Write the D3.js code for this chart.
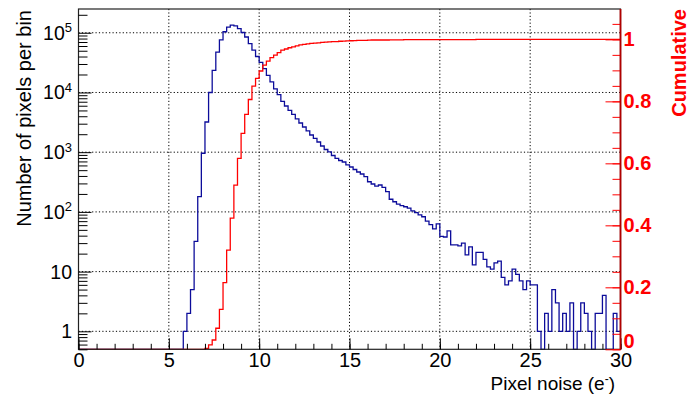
<!DOCTYPE html>
<html>
<head>
<meta charset="utf-8">
<script src="https://cdn.jsdelivr.net/npm/d3@7"></script>
<style>
  html, body { margin: 0; padding: 0; background: #fff; }
  svg { display: block; font-family: "Liberation Sans", Arial, Helvetica, sans-serif; }
</style>
</head>
<body>
<svg id="chart" width="698" height="396"></svg>
<script>
// Histogram binning: 150 bins of 0.2 e- from 0 to 30 e-
const binWidth = 0.2;
const xRange = [0, 30];

// Pixel counts per bin (left, log axis)
const pixelCounts = [
  0, 0, 0, 0, 0, 0, 0, 0, 0, 0,
  0, 0, 0, 0, 0, 0, 0, 0, 0, 0,
  0, 0, 0, 0, 0, 0, 0, 0, 0, 1,
  2, 5, 32, 180, 960, 3200, 10000, 23500, 47500, 76000,
  104000, 124000, 134000, 130000, 117000, 101000, 85000, 66000, 51000, 40000,
  32000, 25000, 19300, 15000, 11500, 9200, 7100, 5940, 5000, 4300,
  3600, 3080, 2640, 2270, 1940, 1700, 1480, 1270, 1110, 1010,
  880, 785, 726, 685, 611, 565, 513, 466, 431, 389,
  320, 293, 271, 282, 258, 218, 163, 148, 135, 127,
  122, 116, 104, 97, 89, 83, 70, 61, 52, 63,
  39, 38, 48, 28, 28, 27, 30, 19, 26, 13,
  21, 21, 16, 12, 11, 14, 15, 8, 6, 7,
  11, 9, 7, 5, 7, 6, 6, 1, 0, 2,
  1, 5, 3, 1, 2, 1, 3, 0, 1, 3,
  2, 1, 0, 2, 2, 4, 0, 0, 2, 1
];

// Cumulative fraction per bin (right, linear axis)
const cumulative = [
  0, 0, 0, 0, 0, 0, 0, 0, 0, 0,
  0, 0, 0, 0, 0, 0, 0, 0, 0, 0,
  0, 0, 0, 0, 0, 0, 0, 0, 0, 0,
  0, 0, 0, 0, 0, 0.003, 0.014, 0.030, 0.068, 0.129,
  0.215, 0.320, 0.423, 0.530, 0.616, 0.697, 0.758, 0.806, 0.849, 0.874,
  0.898, 0.917, 0.930, 0.941, 0.949, 0.957, 0.9655, 0.969, 0.973, 0.976,
  0.979, 0.982, 0.984, 0.9855, 0.987, 0.988, 0.989, 0.990, 0.991, 0.992,
  0.9925, 0.993, 0.994, 0.9945, 0.995, 0.9955, 0.996, 0.9965, 0.997, 0.997,
  0.9975, 0.998, 0.998, 0.998, 0.998, 0.998, 0.9985, 0.9985, 0.9985, 0.9985,
  0.999, 0.999, 0.999, 0.999, 0.999, 0.999, 0.9995, 0.9995, 0.9995, 0.9995,
  0.9995, 0.9995, 0.9995, 0.9995, 0.9995, 0.9995, 0.9995, 0.9995, 0.9995, 0.9995,
  1, 1, 1, 1, 1, 1, 1, 1, 1, 1,
  1, 1, 1, 1, 1, 1, 1, 1, 1, 1,
  1, 1, 1, 1, 1, 1, 1, 1, 1, 1,
  1, 1, 1, 1, 1, 1, 1, 1, 1, 1
];

// Axis ticks and labels
const xTicks = [0, 5, 10, 15, 20, 25, 30];
const xTickLabels = ["0", "5", "10", "15", "20", "25", "30"];
const xGrid = [5, 10, 15, 20, 25];
const yTicks = [1, 10, 100, 1000, 10000, 100000];
const yTickBase = ["1", "10", "10", "10", "10", "10"];
const yTickExp = ["", "", "2", "3", "4", "5"];
const rTicks = [0, 0.2, 0.4, 0.6, 0.8, 1];
const rTickLabels = ["0", "0.2", "0.4", "0.6", "0.8", "1"];

const xTitle = "Pixel noise (e";
const yTitle = "Number of pixels per bin";
const rTitle = "Cumulative";

const frame = { left: 78.5, right: 620.5, top: 9, bottom: 349.3 };
const blue = "#0c0c9a";
const red = "#ff0000";

const svg = d3.select("#chart");

const x = d3.scaleLinear().domain(xRange).range([frame.left, frame.right]);
const y = d3.scaleLog().domain([0.5, 2.5e5]).range([frame.bottom, frame.top]);
const yR = d3.scaleLinear().domain([0, 1.098]).range([frame.bottom, frame.top]);

svg.append("defs").append("clipPath").attr("id", "plotClip")
  .append("rect")
  .attr("x", frame.left).attr("y", frame.top - 1)
  .attr("width", frame.right - frame.left).attr("height", frame.bottom - frame.top + 2);

// Dotted grid
const grid = svg.append("g").attr("stroke", "#000").attr("stroke-width", 1)
  .attr("stroke-dasharray", "1.2,2.2");
grid.selectAll("line.gx").data(xGrid).join("line")
  .attr("x1", d => x(d)).attr("x2", d => x(d))
  .attr("y1", frame.top).attr("y2", frame.bottom);
grid.selectAll("line.gy").data(yTicks).join("line")
  .attr("x1", frame.left).attr("x2", frame.right)
  .attr("y1", d => y(d)).attr("y2", d => y(d));

// Step outline for a binned series
function stepPath(values, yScale) {
  const pts = [];
  values.forEach((v, i) => {
    const yy = yScale(v);
    pts.push([x(i * binWidth), yy], [x((i + 1) * binWidth), yy]);
  });
  return d3.line()(pts);
}

const plot = svg.append("g").attr("clip-path", "url(#plotClip)");
plot.append("path")
  .attr("d", stepPath(pixelCounts, v => v > 0 ? y(v) : frame.bottom))
  .attr("fill", "none").attr("stroke", blue).attr("stroke-width", 1.3);
plot.append("path")
  .attr("d", stepPath(cumulative, v => yR(v)))
  .attr("fill", "none").attr("stroke", red).attr("stroke-width", 1.3);

// Frame
svg.append("rect")
  .attr("x", frame.left).attr("y", frame.top)
  .attr("width", frame.right - frame.left).attr("height", frame.bottom - frame.top)
  .attr("fill", "none").attr("stroke", "#222").attr("stroke-width", 1.2);

// Bottom axis
const xMinor = d3.range(xRange[0], xRange[1] + 1, 1);
svg.append("g").attr("transform", `translate(0,${frame.bottom})`)
  .call(d3.axisBottom(x).tickValues(xMinor).tickSize(-5.5).tickFormat(""))
  .call(g => g.select(".domain").remove());
svg.append("g").attr("transform", `translate(0,${frame.bottom})`)
  .call(d3.axisBottom(x).tickValues(xTicks).tickSize(-11).tickPadding(4)
    .tickFormat((d, i) => xTickLabels[i]))
  .call(g => g.select(".domain").remove())
  .call(g => g.selectAll("text").attr("fill", "#000")
    .style("font-size", "20px").style("font-family", "inherit"));

// Left log axis
const yMinor = [];
for (let e = -1; e <= 5; e++) {
  for (let k = 2; k <= 9; k++) {
    const v = k * Math.pow(10, e);
    if (v >= 0.5 && v <= 2.5e5) yMinor.push(v);
  }
}
svg.append("g").attr("transform", `translate(${frame.left},0)`)
  .call(d3.axisLeft(y).tickValues(yMinor).tickSize(-9).tickFormat(""))
  .call(g => g.select(".domain").remove());
svg.append("g").attr("transform", `translate(${frame.left},0)`)
  .call(d3.axisLeft(y).tickValues(yTicks).tickSize(-13).tickFormat(""))
  .call(g => g.select(".domain").remove());

const yLab = svg.append("g").attr("font-size", 19.5).attr("fill", "#000");
yTicks.forEach((v, i) => {
  const t = yLab.append("text")
    .attr("x", 72).attr("y", y(v) + 7)
    .attr("text-anchor", "end");
  t.append("tspan").text(yTickBase[i]);
  if (yTickExp[i]) {
    t.append("tspan").attr("dy", -7.5).attr("font-size", 13).text(yTickExp[i]);
  }
});

// Right cumulative axis
const rMinor = d3.range(0, 1.09, 0.05);
svg.append("g").attr("transform", `translate(${frame.right},0)`)
  .call(d3.axisRight(yR).tickValues(rMinor).tickSize(-8).tickFormat(""))
  .call(g => g.select(".domain").remove())
  .call(g => g.selectAll("line").attr("stroke", red));
svg.append("g").attr("transform", `translate(${frame.right},0)`)
  .call(d3.axisRight(yR).tickValues(rTicks).tickSize(-15).tickPadding(3)
    .tickFormat((d, i) => rTickLabels[i]))
  .call(g => g.select(".domain").remove())
  .call(g => g.selectAll("line").attr("stroke", red))
  .call(g => g.selectAll("text").attr("fill", red)
    .style("font-size", "20px").style("font-weight", "bold").style("font-family", "inherit"))
  // the lowest label sits just above the bottom edge
  .call(g => g.selectAll(".tick").filter(d => d === 0).select("text").attr("dy", "-0.1em"));
svg.append("line")
  .attr("x1", frame.right).attr("x2", frame.right)
  .attr("y1", frame.top).attr("y2", frame.bottom)
  .attr("stroke", "#b00000").attr("stroke-width", 1.8);

// Axis titles
svg.append("text")
  .attr("transform", "translate(31,10) rotate(-90)")
  .attr("text-anchor", "end").attr("font-size", 20).attr("fill", "#000")
  .text(yTitle);

const xt = svg.append("text")
  .attr("x", 615).attr("y", 390)
  .attr("text-anchor", "end").attr("font-size", 19).attr("fill", "#000");
xt.append("tspan").text(xTitle);
xt.append("tspan").attr("dy", -7.5).attr("font-size", 12).text("-");
xt.append("tspan").attr("dy", 7.5).text(")");

svg.append("text")
  .attr("transform", "translate(686,9) rotate(-90)")
  .attr("text-anchor", "end").attr("font-size", 20).attr("font-weight", "bold")
  .attr("fill", red)
  .text(rTitle);
</script>
</body>
</html>
